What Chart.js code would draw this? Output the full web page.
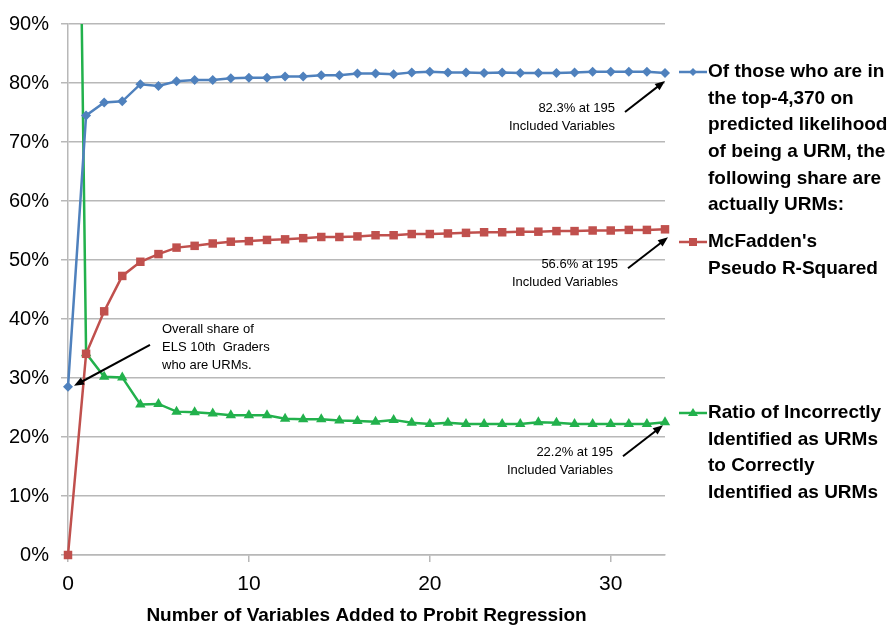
<!DOCTYPE html>
<html>
<head>
<meta charset="utf-8">
<script src="https://cdn.jsdelivr.net/npm/chart.js@4.4.0/dist/chart.umd.min.js"></script>
<style>
  body { margin: 0; background: #fff; }
  #wrap { width: 891px; height: 628px; }
</style>
</head>
<body>
<div id="wrap"><canvas id="plot" width="891" height="628"></canvas></div>
<script>
// values (percent)
const steps = [0, 1, 2, 3, 4, 5, 6, 7, 8, 9, 10, 11, 12, 13, 14, 15, 16, 17, 18, 19, 20, 21, 22, 23, 24, 25, 26, 27, 28, 29, 30, 31, 32, 33];
const shareActual = [28.5, 74.5, 76.7, 76.9, 79.8, 79.5, 80.3, 80.5, 80.5, 80.8, 80.9, 80.9, 81.1, 81.1, 81.3, 81.3, 81.6, 81.6, 81.5, 81.8, 81.9, 81.8, 81.8, 81.7, 81.8, 81.7, 81.7, 81.7, 81.8, 81.9, 81.9, 81.9, 81.9, 81.7];
const pseudoR2 = [0, 34.1, 41.3, 47.3, 49.7, 51.0, 52.1, 52.4, 52.8, 53.1, 53.2, 53.4, 53.5, 53.7, 53.9, 53.9, 54.0, 54.2, 54.2, 54.4, 54.4, 54.5, 54.6, 54.7, 54.7, 54.8, 54.8, 54.9, 54.9, 55.0, 55.0, 55.1, 55.1, 55.2];
const ratioWrong = [268, 34.2, 30.2, 30.1, 25.5, 25.6, 24.3, 24.2, 24.0, 23.7, 23.7, 23.7, 23.1, 23.0, 23.0, 22.8, 22.7, 22.6, 22.9, 22.4, 22.2, 22.4, 22.2, 22.2, 22.2, 22.2, 22.5, 22.4, 22.2, 22.2, 22.2, 22.2, 22.2, 22.5];

const seriesNames = [
  ['Of those who are in', 'the top-4,370 on', 'predicted likelihood', 'of being a URM, the', 'following share are', 'actually URMs:'],
  ["McFadden's", 'Pseudo R-Squared'],
  ['Ratio of Incorrectly', 'Identified as URMs', 'to Correctly', 'Identified as URMs']
];
const endNotes = [
  ['82.3% at 195', 'Included Variables'],
  ['56.6% at 195', 'Included Variables'],
  ['22.2% at 195', 'Included Variables']
];
const startNote = ['Overall share of', 'ELS 10th  Graders', 'who are URMs.'];

const colors = ['#4f81bd', '#c0504d', '#22b14c'];
const FONT = 'Arial, "Liberation Sans", sans-serif';

const toPts = (arr) => steps.map((x, i) => ({ x: x, y: arr[i] }));

// draws arrow with a filled head at (x2,y2)
const arrow = (ctx, x1, y1, x2, y2) => {
  const a = Math.atan2(y2 - y1, x2 - x1);
  ctx.beginPath();
  ctx.moveTo(x1, y1);
  ctx.lineTo(x2 - 6 * Math.cos(a), y2 - 6 * Math.sin(a));
  ctx.stroke();
  ctx.beginPath();
  ctx.moveTo(x2, y2);
  ctx.lineTo(x2 - 10 * Math.cos(a) + 4 * Math.sin(a), y2 - 10 * Math.sin(a) - 4 * Math.cos(a));
  ctx.lineTo(x2 - 10 * Math.cos(a) - 4 * Math.sin(a), y2 - 10 * Math.sin(a) + 4 * Math.cos(a));
  ctx.closePath();
  ctx.fill();
};

const notesPlugin = {
  id: 'notes',
  afterDatasetsDraw(chart) {
    const ctx = chart.ctx;
    const xs = chart.scales.x, ys = chart.scales.y;
    const last = steps.length - 1;
    ctx.save();
    ctx.strokeStyle = '#000';
    ctx.fillStyle = '#000';
    ctx.lineWidth = 2;
    ctx.font = '13px ' + FONT;
    ctx.textBaseline = 'middle';

    // end-of-line notes
    const ends = [shareActual, pseudoR2, ratioWrong];
    const tipOff = [[0, 8], [3, 8], [-2, 3]];
    ends.forEach((arr, k) => {
      const px = xs.getPixelForValue(steps[last]);
      const py = ys.getPixelForValue(arr[last]);
      const tx = px + tipOff[k][0], ty = py + tipOff[k][1];
      arrow(ctx, tx - 40, ty + 31, tx, ty);
      ctx.textAlign = 'right';
      ctx.fillText(endNotes[k][0], tx - 50, ty + 27);
      ctx.fillText(endNotes[k][1], tx - 50, ty + 45);
    });

    // note at the first point
    const bx = xs.getPixelForValue(steps[0]);
    const by = ys.getPixelForValue(shareActual[0]);
    arrow(ctx, bx + 82, by - 42, bx + 6, by - 1);
    ctx.textAlign = 'left';
    startNote.forEach((t, i) => ctx.fillText(t, bx + 94, by - 57 + i * 18));

    // legend on the right
    const lx = chart.chartArea.right + 43;
    const legendY = [72, 242, 413];
    ctx.font = 'bold 19px ' + FONT;
    seriesNames.forEach((lines, k) => {
      const y0 = legendY[k];
      ctx.strokeStyle = colors[k];
      ctx.fillStyle = colors[k];
      ctx.lineWidth = 2.5;
      ctx.beginPath();
      ctx.moveTo(lx - 29, y0);
      ctx.lineTo(lx - 1, y0);
      ctx.stroke();
      const mx = lx - 15;
      ctx.beginPath();
      if (k === 0) {
        ctx.moveTo(mx, y0 - 4); ctx.lineTo(mx + 4, y0); ctx.lineTo(mx, y0 + 4); ctx.lineTo(mx - 4, y0);
      } else if (k === 1) {
        ctx.rect(mx - 4, y0 - 4, 8, 8);
      } else {
        ctx.moveTo(mx, y0 - 5); ctx.lineTo(mx + 5, y0 + 3); ctx.lineTo(mx - 5, y0 + 3);
      }
      ctx.closePath();
      ctx.fill();
      ctx.fillStyle = '#000';
      ctx.textAlign = 'left';
      lines.forEach((t, i) => ctx.fillText(t, lx, y0 + i * 26.6));
    });
    ctx.restore();
  }
};

const lineSet = (label, arr, color, shape, r, clip) => ({
  label: label,
  data: toPts(arr),
  borderColor: color,
  backgroundColor: color,
  borderWidth: 2.5,
  pointStyle: shape,
  pointRadius: r,
  pointBorderWidth: 0,
  tension: 0,
  clip: clip
});

const chartEl = document.getElementById('plot').getContext('2d');
const lineChart = new Chart(chartEl, {
  type: 'line',
  data: {
    datasets: [
      lineSet(seriesNames[0].join(' '), shareActual, colors[0], 'rectRot', 5, 10),
      lineSet(seriesNames[1].join(' '), pseudoR2, colors[1], 'rect', 6, 10),
      lineSet(seriesNames[2].join(' '), ratioWrong, colors[2], 'triangle', 6, { left: 10, right: 10, top: 0, bottom: 10 })
    ]
  },
  options: {
    responsive: false,
    animation: false,
    devicePixelRatio: 1,
    layout: { padding: { left: 0, right: 226, top: 21, bottom: 0 } },
    plugins: {
      legend: { display: false },
      tooltip: { enabled: false }
    },
    scales: {
      x: {
        type: 'linear',
        min: 0,
        max: 33,
        afterFit: (s) => { s.height = 73; },
        ticks: { stepSize: 10, includeBounds: false, color: '#000', font: { family: FONT, size: 21 }, padding: 10, maxRotation: 0 },
        grid: { drawOnChartArea: false, drawTicks: true, tickLength: 7, color: '#b8b8b8', lineWidth: 1.5 },
        border: { color: '#b8b8b8', width: 1.5 },
        title: {
          display: true,
          text: 'Number of Variables Added to Probit Regression',
          color: '#000',
          font: { family: FONT, size: 19, weight: 'bold' },
          padding: { top: 0, bottom: 1 }
        }
      },
      y: {
        min: 0,
        max: 90,
        afterFit: (s) => { s.width = 68; },
        ticks: { stepSize: 10, color: '#000', font: { family: FONT, size: 20 }, padding: 12, callback: (v) => v + '%' },
        grid: { color: '#b8b8b8', lineWidth: 1.5, tickLength: 7 },
        border: { color: '#b8b8b8', width: 1.5 }
      }
    }
  },
  plugins: [notesPlugin]
});
</script>
</body>
</html>
